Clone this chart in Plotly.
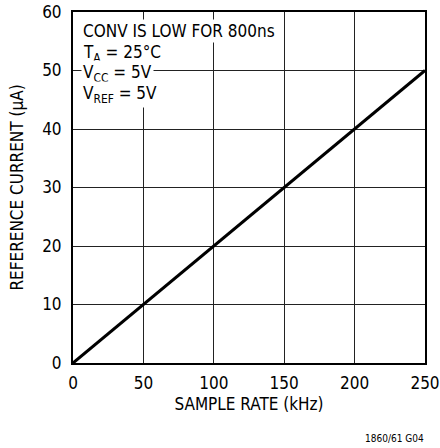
import plotly.graph_objects as go

# Data
sample_rate_khz = [0, 250]
reference_current_ua = [0, 50]
x_ticks = [0, 50, 100, 150, 200, 250]
y_ticks = [0, 10, 20, 30, 40, 50, 60]
notes = [
    "CONV IS LOW FOR 800ns",
    "T<sub>A</sub> = 25°C",
    "V<sub>CC</sub> = 5V",
    "V<sub>REF</sub> = 5V",
]
note_y = [56.8, 52.9, 49.5, 45.9]

FONT = "Liberation Sans Narrow, DejaVu Sans Condensed, Arial Narrow, sans-serif"

fig = go.Figure()
fig.add_trace(go.Scatter(
    x=sample_rate_khz, y=reference_current_ua, mode="lines",
    line=dict(color="black", width=3), showlegend=False, hoverinfo="skip",
))

for txt, yy in zip(notes, note_y):
    fig.add_annotation(
        x=6.0, y=yy, xref="x", yref="y", text=txt, showarrow=False,
        xanchor="left", yanchor="middle", bgcolor="white", borderpad=1,
        font=dict(family=FONT, size=17, color="black"),
    )

fig.add_annotation(
    x=1.0, y=0, xref="paper", yref="paper", yshift=-83, xshift=1, text="1860/61 G04",
    showarrow=False, xanchor="right", yanchor="bottom",
    font=dict(family=FONT, size=10, color="black"),
)

axis_common = dict(
    showgrid=True, gridcolor="#222", gridwidth=1,
    showline=True, linecolor="black", linewidth=2, mirror=True,
    zeroline=False, ticks="", tickfont=dict(family=FONT, size=17, color="black"),
    title_font=dict(family=FONT, size=17, color="black"),
    automargin=False,
)

fig.update_xaxes(range=[0, 250], tickvals=x_ticks, title_text="SAMPLE RATE (kHz)",
                 title_standoff=6, ticklabelstandoff=4, **axis_common)
fig.update_yaxes(range=[0, 60], tickvals=y_ticks, title_text="REFERENCE CURRENT (μA)",
                 title_standoff=14, ticklabelstandoff=6, **axis_common)

fig.update_layout(
    width=440, height=448,
    margin=dict(l=73, r=15, t=12, b=85),
    plot_bgcolor="white", paper_bgcolor="white",
    font=dict(family=FONT, color="black"),
)

fig.write_html("out.html", config={"displayModeBar": False},
               post_script="document.body.style.margin='0';")
